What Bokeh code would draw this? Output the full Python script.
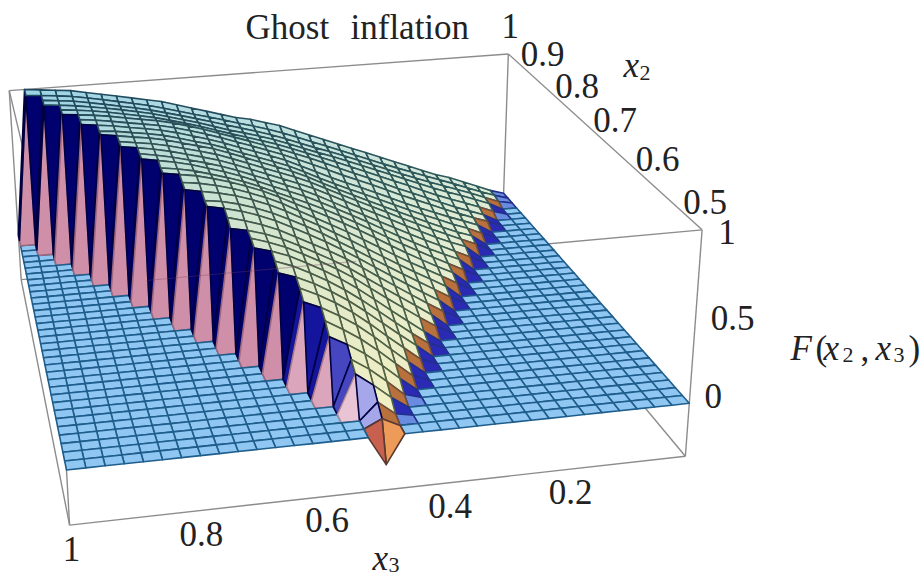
from bokeh.plotting import figure
from bokeh.models import ColumnDataSource
from bokeh.core.properties import value
from bokeh.embed import file_html
from bokeh.resources import INLINE
import numpy as np

TITLE_WORDS = ["Ghost", "inflation"]
x3_ticks = ["1", "0.8", "0.6", "0.4", "0.2"]
x3_tick_values = [1.0, 0.8, 0.6, 0.4, 0.2]
x2_ticks = ["1", "0.9", "0.8", "0.7", "0.6", "0.5"]
x2_tick_values = [1.0, 0.9, 0.8, 0.7, 0.6, 0.5]
z_ticks = ["1", "0.5", "0"]
z_tick_values = [1.0, 0.5, 0.0]

N_X3 = 34   # cells along x3 (0..1)
N_X2 = 34   # cells along x2 (0.5..1)

# F(x2, x3) x 100, one row per x2 step (front to back);
# row i starts at column 17 - i // 2, everything outside it is flat at 0
F_rows = [
    [-17],
    [5],
    [2, 10],
    [7, 16, 23],
    [3, 12, 21, 27],
    [8, 17, 25, 32, 37],
    [4, 13, 21, 30, 36, 42],
    [8, 16, 26, 34, 40, 46, 50],
    [4, 12, 20, 29, 37, 44, 50, 54],
    [8, 16, 24, 32, 40, 46, 52, 57, 60],
    [4, 11, 19, 27, 35, 42, 49, 54, 60, 63],
    [7, 14, 22, 30, 38, 45, 51, 56, 62, 66, 68],
    [5, 12, 19, 26, 33, 41, 47, 53, 58, 63, 67, 70],
    [8, 15, 22, 28, 35, 42, 48, 53, 59, 64, 68, 71, 73],
    [5, 11, 18, 24, 31, 38, 45, 50, 55, 60, 66, 70, 73, 76],
    [8, 14, 20, 27, 33, 40, 46, 52, 58, 63, 68, 73, 76, 79, 80],
    [5, 11, 17, 23, 29, 35, 41, 47, 54, 59, 64, 69, 72, 76, 78, 80],
    [8, 14, 19, 25, 31, 37, 44, 49, 55, 60, 66, 71, 75, 78, 81, 82, 84],
    [5, 11, 16, 21, 27, 33, 39, 45, 50, 56, 61, 67, 71, 75, 79, 81, 84, 85],
    [8, 13, 18, 24, 30, 36, 42, 47, 53, 57, 62, 68, 73, 76, 80, 83, 86, 87, 88],
    [5, 10, 15, 21, 26, 31, 37, 43, 48, 53, 58, 62, 66, 71, 75, 78, 81, 84, 86, 88],
    [8, 12, 17, 22, 27, 33, 39, 44, 49, 54, 59, 63, 67, 71, 76, 79, 82, 86, 88, 90, 91],
    [5, 9, 15, 19, 24, 29, 34, 39, 44, 49, 55, 60, 63, 68, 71, 75, 79, 82, 84, 87, 89, 91],
    [8, 12, 16, 21, 26, 31, 36, 41, 46, 52, 56, 60, 64, 68, 72, 76, 80, 82, 85, 88, 90, 92, 93],
    [5, 9, 14, 18, 23, 27, 33, 37, 42, 47, 51, 57, 61, 65, 68, 73, 76, 80, 83, 85, 88, 90, 91, 93],
    [7, 10, 14, 19, 23, 28, 32, 37, 42, 46, 52, 57, 62, 65, 69, 73, 77, 81, 83, 86, 89, 91, 92, 94, 95],
    [4, 9, 12, 17, 20, 25, 29, 34, 38, 42, 47, 51, 57, 61, 65, 69, 72, 76, 80, 82, 85, 88, 90, 91, 93, 94],
    [6, 10, 13, 17, 21, 25, 30, 34, 39, 43, 47, 52, 57, 62, 66, 69, 73, 77, 80, 83, 86, 89, 90, 92, 94, 95, 96],
    [4, 8, 11, 16, 20, 24, 28, 33, 37, 41, 45, 50, 54, 58, 63, 66, 70, 73, 77, 80, 83, 86, 88, 90, 91, 93, 95, 96],
    [5, 8, 12, 16, 20, 25, 28, 33, 38, 42, 46, 51, 56, 59, 63, 66, 70, 74, 77, 81, 84, 87, 89, 90, 92, 94, 95, 96, 97],
    [3, 7, 11, 14, 18, 22, 27, 31, 35, 39, 43, 48, 51, 55, 59, 63, 66, 69, 72, 75, 79, 81, 84, 87, 89, 91, 93, 95, 96, 97],
    [5, 9, 13, 16, 20, 24, 28, 32, 36, 40, 44, 48, 51, 55, 59, 63, 66, 69, 71, 75, 78, 81, 84, 87, 89, 91, 93, 94, 96, 97, 98],
    [2, 6, 10, 13, 17, 20, 24, 28, 32, 36, 40, 44, 48, 51, 55, 59, 63, 66, 69, 72, 75, 78, 81, 83, 86, 88, 90, 92, 94, 96, 97, 98],
    [3, 6, 10, 14, 18, 21, 25, 28, 32, 36, 40, 44, 48, 52, 56, 60, 63, 66, 69, 72, 75, 77, 80, 83, 86, 88, 90, 92, 94, 96, 97, 98, 99],
    [0, 3, 7, 11, 15, 18, 22, 26, 30, 34, 38, 42, 46, 50, 54, 58, 62, 65, 68, 70, 73, 76, 79, 82, 85, 87, 89, 91, 93, 95, 97, 98, 99, 100],
]

Z = np.zeros((N_X2 + 1, N_X3 + 1))
for i, row in enumerate(F_rows):
    start = N_X3 // 2 - i // 2
    Z[i, start:start + len(row)] = np.array(row) / 100.0

# even out the reading noise of the table in the interior of the raised sheet
for _ in range(2):
    Y = Z.copy()
    for i in range(1, N_X2):
        for j in range(1, N_X3):
            near = [Z[i - 1, j], Z[i + 1, j], Z[i, j - 1], Z[i, j + 1]]
            if Z[i, j] > 0 and min(near) > 0:
                Y[i, j] = .5 * Z[i, j] + .125 * sum(near)
    Z = Y

# ---- camera: projective map fitted to the box corners seen in the picture
Z_LOW = -0.32
corner_fit = [
    (1, .5, 1, 54, 287), (0, .5, 1, 703, 232), (0, 1, 1, 507, 56), (1, 1, 1, 10, 87),
    (1, .5, 0, 66, 467), (0, .5, 0, 688, 402), (0, 1, 0, 503, 190), (1, 1, 0, 18, 237),
    (1, .5, Z_LOW, 70, 524), (0, .5, Z_LOW, 685, 458), (0, 1, Z_LOW, 502, 233), (1, 1, Z_LOW, 20, 283),
]
A = []
for a, b, c, u, v in corner_fit:
    u, v = u / 1000.0, v / 1000.0
    A.append([a, b, c, 1, 0, 0, 0, 0, -u * a, -u * b, -u * c, -u])
    A.append([0, 0, 0, 0, a, b, c, 1, -v * a, -v * b, -v * c, -v])
P = np.linalg.svd(np.array(A, float))[2][-1].reshape(3, 4)
if P[2, 3] < 0:
    P = -P


def project(x3, x2, z):
    h = P @ np.array([x3, x2, z, 1.0])
    return h[0] / h[2] * 1000.0, h[1] / h[2] * 1000.0, h[2]


def hexmix(c1, c2, t):
    a = [int(c1[k:k + 2], 16) for k in (1, 3, 5)]
    b = [int(c2[k:k + 2], 16) for k in (1, 3, 5)]
    return "#%02x%02x%02x" % tuple(int(round(p + (q - p) * t)) for p, q in zip(a, b))


def navy_for(h):
    if h > 0.55: return "#00006e"
    if h > 0.40: return "#14149c"
    if h > 0.24: return "#4646c0"
    return "#a6a6ea"


def pink_for(h):
    if h > 0.50: return "#cf8fa8"
    if h > 0.30: return "#dba6bc"
    return "#e8c4d4"


def cell_style(i, j, zs):
    high = [k for k, v in enumerate(zs) if v > 0]
    neg = [v for v in zs if v < 0]
    h = max(zs)
    if neg:
        return ("#c8604f" if j >= N_X3 // 2 else "#ee9a58"), "#5a3a30"
    if len(high) == 0:
        return "#8fc6f2", "#1f5e8c"
    if len(high) == 4:
        x3 = (j + .5) / N_X3
        x2 = .5 + (i + .5) / (2 * N_X2)
        s = min(1, max(0, (x2 - .5) * 2))
        w = min(1, max(0, (x3 - (1 - x2)) / max(2 * x2 - 1, 1e-6)))
        back = hexmix("#e0ecd8", "#98d2e6", w)
        fill = hexmix("#f2efc2", back, s)
        line = hexmix("#5a6440", hexmix("#2e5c5a", "#1c4660", w), s)
        return fill, line
    if j < N_X3 // 2:  # the low wall on the small-x3 side
        if len(high) == 3:
            return ("#b8703c" if h > 0.05 else "#6a8ce0"), "#70503a"
        return ("#2a2ab4" if h > 0.03 else "#6a8ce0"), "#22308c"
    if len(high) == 1:
        return pink_for(h), hexmix(pink_for(h), "#402030", .35)
    return navy_for(h), "#000040"


polys = []
for i in range(N_X2):
    for j in range(N_X3):
        idx = [(i, j), (i, j + 1), (i + 1, j + 1), (i + 1, j)]
        zs = [Z[a, b] for a, b in idx]
        pts = [project(b / N_X3, .5 + a / (2 * N_X2), Z[a, b]) for a, b in idx]
        depth = np.mean([q[2] for q in pts])
        fill, line = cell_style(i, j, zs)
        polys.append((depth, [q[0] for q in pts], [q[1] for q in pts], fill, line))
polys.sort(key=lambda r: -r[0])

p = figure(width=922, height=580, x_range=(0, 922), y_range=(580, 0),
           output_backend="svg", toolbar_location=None, min_border=0,
           background_fill_color="white", border_fill_color="white")
p.axis.visible = False
p.grid.visible = False
p.outline_line_color = None

# box edges behind the surface
corner = lambda a, b, c: project(a, b, c)[:2]
edges = [
    ((1, 1, 1), (0, 1, 1)), ((0, 1, 1), (0, .5, 1)), ((0, 1, 1), (0, 1, Z_LOW)),
    ((1, 1, 1), (1, 1, Z_LOW)), ((1, 1, 1), (1, .5, 1)), ((1, .5, 1), (0, .5, 1)),
    ((0, .5, 1), (0, .5, Z_LOW)), ((0, .5, Z_LOW), (1, .5, Z_LOW)), ((1, .5, Z_LOW), (1, .5, 1)),
    ((1, .5, Z_LOW), (1, 1, Z_LOW)), ((0, .5, Z_LOW), (0, 1, Z_LOW)), ((1, 1, Z_LOW), (0, 1, Z_LOW)),
]
p.multi_line([[corner(*e[0])[0], corner(*e[1])[0]] for e in edges],
             [[corner(*e[0])[1], corner(*e[1])[1]] for e in edges],
             line_color="#8c8c8c", line_width=1.4)

src = ColumnDataSource(dict(xs=[r[1] for r in polys], ys=[r[2] for r in polys],
                            fill=[r[3] for r in polys], line=[r[4] for r in polys]))
p.patches("xs", "ys", source=src, fill_color="fill", line_color="line",
          line_width=1.6, line_join="round")

# the front top edge shows faintly across the wall
a, b = corner(1, .5, 1), corner(.55, .5, 1)
p.line([a[0] + 90, b[0]], [np.interp(a[0] + 90, [a[0], corner(0, .5, 1)[0]], [a[1], corner(0, .5, 1)[1]]), b[1]],
       line_color="#704060", line_alpha=0.35, line_width=1.2)

SERIF = value("Liberation Serif")


def put(x, y, s, size=35, style="normal", align="center", base="middle"):
    p.text([x], [y], text=[s], text_font=SERIF, text_font_size=f"{size}px", text_font_style=style,
           text_color="#222222", text_align=align, text_baseline=base)


put(245, 27, TITLE_WORDS[0], align="left")
put(350, 27, TITLE_WORDS[1], align="left")
for s, v in zip(x3_ticks, x3_tick_values):
    u = corner(v, .5, Z_LOW)
    put(u[0] + (2 if v == 1 else 3), u[1] + (24 if v == 1 else 23), s)
for s, v in zip(x2_ticks, x2_tick_values):
    u = corner(0, v, 1)
    put(u[0] + (2 if v == 1 else 3), u[1] - 28, s)
for s, v in zip(z_ticks, z_tick_values):
    u = corner(0, .5, v)
    put(u[0] + (25 if v == 1 else 24 if v == 0 else 37), u[1] + (2 if v == 1 else -7 if v == 0 else 0), s)

# axis names, piece by piece for the subscripts
put(623, 65, "x", style="italic", align="left", base="alphabetic")
put(639, 72, "2", size=22, align="left", base="alphabetic")
put(372, 558, "x", style="italic", align="left", base="alphabetic")
put(388, 564, "3", size=22, align="left", base="alphabetic")
for x, y, s, size, style in [(790, 348, "F", 35, "italic"), (815, 348, "(", 35, "normal"),
                             (823, 348, "x", 35, "italic"), (842, 354, "2", 22, "normal"),
                             (860, 348, ",", 35, "normal"), (875, 348, "x", 35, "italic"),
                             (893, 354, "3", 22, "normal"), (908, 348, ")", 35, "normal")]:
    put(x, y, s, size=size, style=style, align="left", base="alphabetic")

open("out.html", "w").write(file_html(p, INLINE))
